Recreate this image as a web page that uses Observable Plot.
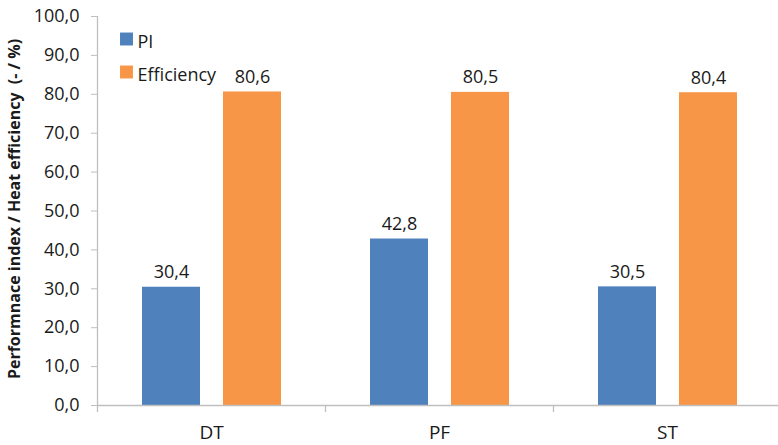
<!DOCTYPE html>
<html>
<head>
<meta charset="utf-8">
<script src="https://cdn.jsdelivr.net/npm/d3@7"></script>
<script src="https://cdn.jsdelivr.net/npm/@observablehq/plot@0.6"></script>
<style>
  body { margin: 0; background: #fff; }
  #chart svg { display: block; }
</style>
</head>
<body>
<div id="chart"></div>
<script>
// Test configurations and their two measured quantities
const categories = ["DT", "PF", "ST"];
const seriesNames = ["PI", "Efficiency"];
const piValues = [30.4, 42.8, 30.5];
const efficiencyValues = [80.6, 80.5, 80.4];
const yTicks = [0, 10, 20, 30, 40, 50, 60, 70, 80, 90, 100];
const seriesColors = ["#4F81BD", "#F79646"];
const yTitle = "Performnace index / Heat efficiency  (- / %)";

const fmt = d => d.toFixed(1).replace(".", ",");
const axisGray = "#BFBFBF";
const ink = "#1a1a1a";
const font = "Open Sans, sans-serif";

const piRows = categories.map((c, i) => ({category: c, value: piValues[i]}));
const effRows = categories.map((c, i) => ({category: c, value: efficiencyValues[i]}));
const half = 114; // half of a category band, in px

const chart = Plot.plot({
  width: 778,
  height: 445,
  marginLeft: 97,
  marginRight: -3,
  marginTop: 16,
  marginBottom: 40,
  style: {fontFamily: font, fontSize: "18px", color: ink, background: "#fff"},
  x: {domain: categories, padding: 0, label: null},
  y: {domain: [0, 100], label: null},
  marks: [
    // bars: PI on the left of each band, Efficiency on the right
    Plot.barY(piRows, {x: "category", y: "value", fill: seriesColors[0], insetLeft: 45, insetRight: 125}),
    Plot.barY(effRows, {x: "category", y: "value", fill: seriesColors[1], insetLeft: 126, insetRight: 44}),
    Plot.text(piRows, {x: "category", y: "value", text: d => fmt(d.value), dx: -40, dy: -9, lineAnchor: "bottom", fontSize: 18, fill: ink}),
    Plot.text(effRows, {x: "category", y: "value", text: d => fmt(d.value), dx: 41, dy: -9, lineAnchor: "bottom", fontSize: 18, fill: ink}),
    // axes
    Plot.ruleY([0], {stroke: axisGray, strokeWidth: 1.3}),
    Plot.ruleX([categories[0]], {dx: -half, y1: 100, y2: 0, insetBottom: -7, stroke: axisGray, strokeWidth: 1.3}),
    Plot.ruleX(categories.slice(1), {dx: -half, y1: 0, y2: 0, insetBottom: -7, stroke: axisGray, strokeWidth: 1.3}),
    Plot.ruleX([categories[categories.length - 1]], {dx: half, y1: 0, y2: 0, insetBottom: -7, stroke: axisGray, strokeWidth: 1.3}),
    Plot.axisY({ticks: yTicks, tickFormat: fmt, tickSize: 6, tickPadding: 12, stroke: axisGray, fontSize: 18, label: null}),
    Plot.axisX({tickSize: 0, tickPadding: 20, fontSize: 19, label: null}),
    // y title
    Plot.text([yTitle], {text: d => d, frameAnchor: "left", textAnchor: "middle", rotate: -90, dx: -83, dy: -2, fontWeight: "bold", fontSize: 16, fill: ink}),
    // legend
    ...seriesNames.map((name, i) =>
      Plot.dot([name], {frameAnchor: "top-left", dx: 29, dy: 22.5 + i * 33, symbol: "square", r: 7.3, fill: seriesColors[i]})),
    ...seriesNames.map((name, i) =>
      Plot.text([name], {text: d => d, frameAnchor: "top-left", dx: 40, dy: 18.5 + i * 33, textAnchor: "start", fontSize: 18, fill: ink}))
  ]
});

document.getElementById("chart").append(chart);
</script>
</body>
</html>
